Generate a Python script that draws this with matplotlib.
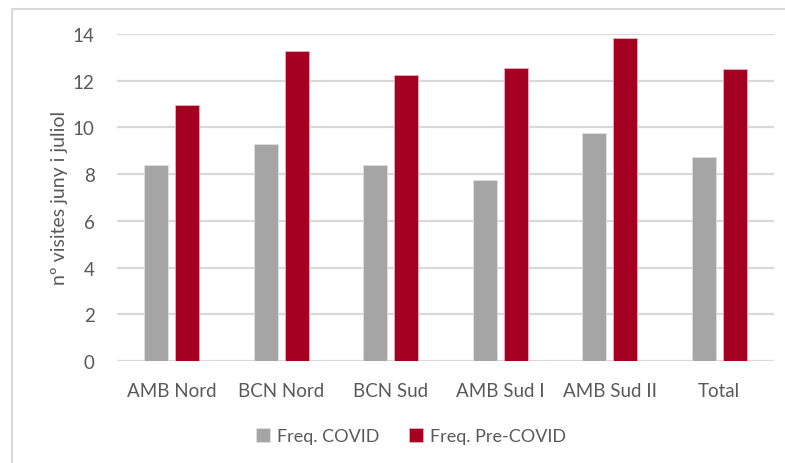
#!/usr/bin/env python3
"""Visits in June and July per area: COVID vs pre-COVID frequency."""

import matplotlib

matplotlib.use("Agg")
import matplotlib.pyplot as plt
import numpy as np
from matplotlib.patches import Rectangle

categories = ["AMB Nord", "BCN Nord", "BCN Sud", "AMB Sud I", "AMB Sud II", "Total"]
freq_covid = [8.40, 9.29, 8.40, 7.75, 9.75, 8.75]
freq_pre_covid = [10.95, 13.26, 12.24, 12.54, 13.84, 12.49]

GRAY = "#A5A5A5"
RED = "#A50021"
TEXT = "#595959"

plt.rcParams["font.family"] = ["Lato", "DejaVu Sans"]

fig = plt.figure(figsize=(7.85, 4.64), dpi=100)
ax = fig.add_axes([0.149, 0.2198, 0.837, 0.7048])

x = np.arange(len(categories))
width = 0.22
ax.bar(x - 0.143, freq_covid, width, color=GRAY, edgecolor="#E0E0E0", linewidth=0.6,
       label="Freq. COVID", zorder=3)
ax.bar(x + 0.143, freq_pre_covid, width, color=RED, edgecolor="#E8B0BC", linewidth=0.6,
       label="Freq. Pre-COVID", zorder=3)

ax.set_xlim(-0.5, len(categories) - 0.5)
ax.set_ylim(0, 14)
ax.set_yticks(range(0, 15, 2))
ax.set_xticks(x)
ax.set_xticklabels(categories)
ax.tick_params(axis="both", length=0, labelsize=13.5, colors=TEXT)
ax.tick_params(axis="x", pad=15)
ax.tick_params(axis="y", pad=16)
ax.grid(axis="y", color="#D9D9D9", linewidth=1.6, zorder=0)
ax.set_axisbelow(True)
for side in ["top", "right", "left", "bottom"]:
    ax.spines[side].set_visible(False)

fig.text(60 / 785, 1 - 198 / 464, "nº visites juny i juliol", rotation=90,
         ha="center", va="center", fontsize=14, color=TEXT)

fig.legend(loc="center", bbox_to_anchor=(411 / 785, 1 - 437 / 464), ncol=2,
           frameon=False, fontsize=13, labelcolor=TEXT, handlelength=0.8,
           handleheight=0.8, handletextpad=0.4, columnspacing=1.6)

fig.patches.append(Rectangle((12 / 785, -0.02), 1.0, (464 - 10) / 464 + 0.02,
                             transform=fig.transFigure, fill=False,
                             edgecolor="#D9D9D9", linewidth=1.5))

fig.savefig("out.png", dpi=100)
plt.close(fig)
